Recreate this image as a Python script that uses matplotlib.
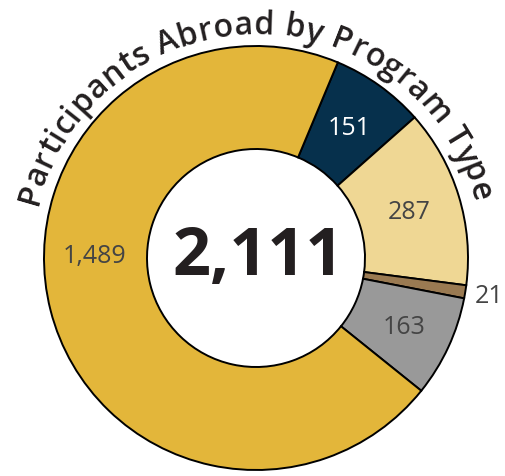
import numpy as np
import matplotlib.pyplot as plt
from matplotlib.font_manager import FontProperties, findfont, get_font

# -----------------------------
# Data
# -----------------------------
values = [151, 287, 21, 163, 1489]
value_labels = ["151", "287", "21", "163", "1,489"]
colors = ["#06304c", "#efd794", "#9a7a52", "#999999", "#e3b63a"]
label_colors = ["white", "#444444", "#444444", "#444444", "#444444"]
title = "Participants Abroad by Program Type"

# -----------------------------
# Figure (1 data unit = 1 pixel)
# -----------------------------
W, H = 505, 477
fig = plt.figure(figsize=(W / 100, H / 100), dpi=100)
ax = fig.add_axes([0, 0, 1, 1])

cx, cy = 256, H - 259
r_out, r_in = 212, 109

wedges, _ = ax.pie(
    values,
    radius=r_out,
    center=(cx, cy),
    startangle=67.3,
    counterclock=False,
    colors=colors,
    wedgeprops=dict(width=r_out - r_in, edgecolor="black", linewidth=1.4),
)

ax.set_xlim(0, W)
ax.set_ylim(0, H)
ax.set_aspect("equal")
ax.axis("off")

# value labels inside / outside the ring
label_radius = [160, 160, 236, 163, 161]
label_shift = [0, 0, 0, 0, -15]
for w, txt, col, rr, sh in zip(wedges, value_labels, label_colors, label_radius, label_shift):
    mid = np.deg2rad((w.theta1 + w.theta2) / 2 + sh)
    ax.text(cx + rr * np.cos(mid), cy + rr * np.sin(mid), txt,
            ha="center", va="center", fontsize=18, color=col,
            family="Open Sans", fontweight="medium")

# big total in the middle
ax.text(cx + 2, cy + 1, f"{sum(values):,}", ha="center", va="center",
        fontsize=48, fontweight="bold", color="#231f20", family="Open Sans")

# -----------------------------
# Curved title along an arc
# -----------------------------
fs = 23
fp = FontProperties(family="Open Sans", size=fs, weight="semibold")
font = get_font(findfont(fp))
font.set_size(fs, 100)
adv = [font.load_char(ord(c)).linearHoriAdvance / 65536 for c in title]

r_txt = 225
span = np.deg2rad(152)
mid_angle = np.deg2rad(90.4)
L = span * r_txt
track = (L - sum(adv)) / (len(title) - 1)

pos = 0
for c, a in zip(title, adv):
    s = pos + a / 2
    th = mid_angle + (L / 2 - s) / r_txt
    ax.text(cx + r_txt * np.cos(th), cy + r_txt * np.sin(th), c,
            rotation=np.rad2deg(th) - 90, rotation_mode="anchor",
            ha="center", va="baseline", fontproperties=fp, color="#231f20")
    pos += a + track

fig.savefig("out.png", dpi=100)
